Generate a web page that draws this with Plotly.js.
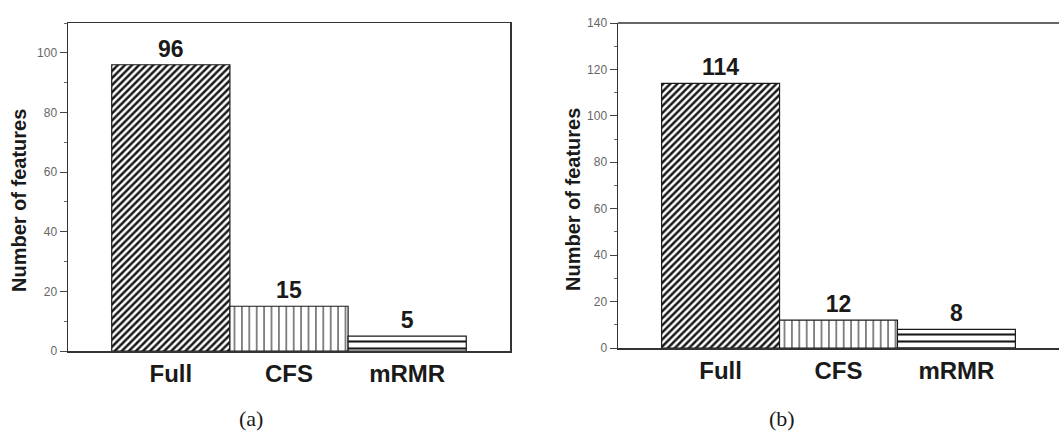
<!DOCTYPE html>
<html>
<head>
<meta charset="utf-8">
<script src="https://cdn.plot.ly/plotly-3.0.1.min.js"></script>
<style>html,body{margin:0;padding:0;background:#fff;}#chart{width:1059px;height:444px;}</style>
</head>
<body>
<div id="chart"></div>
<script>
const categories = ["Full", "CFS", "mRMR"];
const valuesA = [96, 15, 5];
const valuesB = [114, 12, 8];
const patternShapes = ["/", "|", "-"];
const yTicksA = [0, 20, 40, 60, 80, 100];
const yTicksB = [0, 20, 40, 60, 80, 100, 120, 140];
const panelLabels = ["(a)", "(b)"];
const yTitle = "Number of features";

const W = 1059, H = 444;
const px = v => v / W;
const py = v => 1 - v / H;

const pattern = {
  shape: patternShapes,
  size: [5, 7.4, 7],
  solidity: [0.5, 0.14, 0.3],
  fgcolor: "#1a1a1a",
  bgcolor: "#ffffff",
  fillmode: "replace"
};

function barTrace(vals, xa, ya) {
  return {
    type: "bar",
    x: categories,
    y: vals,
    xaxis: xa,
    yaxis: ya,
    width: 1,
    text: vals.map(String),
    textposition: "outside",
    cliponaxis: false,
    textfont: {family: "Liberation Sans, Arial, sans-serif", size: 23, weight: "bold", color: "#1a1a1a"},
    marker: {color: "#ffffff", line: {color: "#1a1a1a", width: 1.2}, pattern: pattern},
    hoverinfo: "skip",
    showlegend: false
  };
}

const xCommon = {
  type: "category",
  range: [-0.87, 2.87],
  showline: true,
  linecolor: "#333",
  linewidth: 1.5,
  ticks: "",
  showgrid: false,
  zeroline: false,
  tickfont: {family: "Liberation Sans, Arial, sans-serif", size: 24, weight: "bold", color: "#1a1a1a"},
  ticklabelstandoff: 1
};
const yCommon = {
  showline: true,
  linecolor: "#333",
  linewidth: 1.5,
  ticks: "outside",
  ticklen: 7,
  tickcolor: "#444",
  tickwidth: 1,
  showgrid: false,
  zeroline: false,
  tickfont: {family: "Liberation Sans, Arial, sans-serif", size: 12, color: "#666"},
  minor: {ticks: "outside", ticklen: 3, dtick: 10, tickcolor: "#666", tickwidth: 1}
};

const labelFont = {family: "Liberation Sans, Arial, sans-serif", size: 20, weight: "bold", color: "#1a1a1a"};
const panelFont = {family: "Liberation Serif, Times New Roman, serif", size: 22, color: "#1a1a1a"};

const layout = {
  width: W,
  height: H,
  margin: {l: 0, r: 0, t: 0, b: 0},
  paper_bgcolor: "#ffffff",
  plot_bgcolor: "#ffffff",
  bargap: 0,
  xaxis: Object.assign({}, xCommon, {domain: [px(68), px(510)], anchor: "y", mirror: true}),
  yaxis: Object.assign({}, yCommon, {domain: [py(351), py(23)], range: [0, 110], tickvals: yTicksA, mirror: true, anchor: "x"}),
  xaxis2: Object.assign({}, xCommon, {domain: [px(618), 1], anchor: "y2", mirror: false}),
  yaxis2: Object.assign({}, yCommon, {domain: [py(348), py(23)], range: [0, 140], tickvals: yTicksB, mirror: false, anchor: "x2"}),
  annotations: [
    {text: yTitle, xref: "paper", yref: "paper", x: px(19), y: py(201), xanchor: "center", yanchor: "middle", textangle: -90, showarrow: false, font: labelFont},
    {text: yTitle, xref: "paper", yref: "paper", x: px(573), y: py(200), xanchor: "center", yanchor: "middle", textangle: -90, showarrow: false, font: labelFont},
    {text: panelLabels[0], xref: "paper", yref: "paper", x: px(251), y: py(418), xanchor: "center", yanchor: "middle", showarrow: false, font: panelFont},
    {text: panelLabels[1], xref: "paper", yref: "paper", x: px(782), y: py(418), xanchor: "center", yanchor: "middle", showarrow: false, font: panelFont}
  ],
  // top frame line for panel (b), whose right edge is cut off in the original
  shapes: [
    {type: "line", xref: "paper", yref: "paper", x0: px(618), x1: 1, y0: py(23), y1: py(23), line: {color: "#333", width: 1.5}}
  ]
};

Plotly.newPlot("chart", [barTrace(valuesA, "x", "y"), barTrace(valuesB, "x2", "y2")], layout, {staticPlot: true, displayModeBar: false});
</script>
</body>
</html>
